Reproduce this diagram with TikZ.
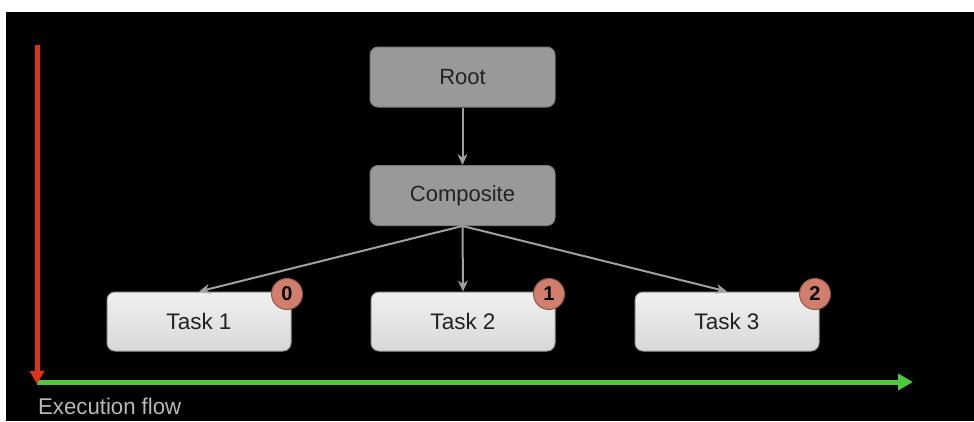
\documentclass[tikz,border=0pt]{standalone}
\usepackage{fontspec}
\setmainfont{Liberation Sans}
\usetikzlibrary{arrows.meta,shadings}
\definecolor{boxgray}{HTML}{999999}
\definecolor{boxedge}{HTML}{7A7A7A}
\definecolor{taskedge}{HTML}{9A9A9A}
\definecolor{badgefill}{HTML}{D27E6C}
\definecolor{badgeedge}{HTML}{8E5A4E}
\definecolor{linkgray}{HTML}{A0A0A0}
\definecolor{flowred}{HTML}{E0321A}
\definecolor{flowgreen}{HTML}{4EC83C}
\definecolor{labelgray}{HTML}{B8B8B8}
\definecolor{inktext}{HTML}{222222}
\begin{document}
\begin{tikzpicture}[x=1pt,y=-1pt,
  darkbox/.style={draw=boxedge,line width=1pt,fill=boxgray,rounded corners=8pt,
    minimum width=185pt,minimum height=60pt,inner sep=0pt,
    font=\fontsize{22}{26}\selectfont,text=inktext},
  taskbox/.style={draw=taskedge,line width=1pt,rounded corners=8pt,
    top color=white!94!black,bottom color=white!85!black,
    minimum width=184pt,minimum height=59pt,inner sep=0pt,
    font=\fontsize{22.5}{26}\selectfont,text=inktext},
  badge/.style={circle,draw=badgeedge,line width=1pt,fill=badgefill,
    minimum size=31pt,inner sep=0pt,font=\fontsize{20}{22}\selectfont\bfseries,text=black},
  link/.style={draw=linkgray,line width=2pt,-{Stealth[length=11pt,width=10pt]}},
  flow/.style={line width=5pt}
]
\useasboundingbox (0,0) rectangle (974,421);
\fill[white] (0,0) rectangle (974,421);
\fill[black] (6,12) rectangle (974,421);

\node[darkbox] (root) at (462.5,77) {Root};
\node[darkbox] (comp) at (462.5,195.5) {Composite};
\node[taskbox] (t1) at (199,321.5) {Task 1};
\node[taskbox] (t2) at (463,321.5) {Task 2};
\node[taskbox] (t3) at (727,321.5) {Task 3};

\draw[link] (root) -- (comp);
\draw[link] (comp.south) -- (t1.north);
\draw[link] (comp.south) -- (t2.north);
\draw[link] (comp.south) -- (t3.north);

\node[badge] (b1) at (287,294) {0};
\node[badge] (b2) at (549,294) {1};
\node[badge] (b3) at (815,294) {2};

\coordinate (ytop) at (37,45);
\coordinate (origin) at (37,384);
\coordinate (xend) at (913,382);
\draw[flow,flowgreen,-{Triangle[length=15pt,width=16pt]}] (37,382) -- (xend);
\draw[flow,flowred,-{Triangle[length=13pt,width=14pt]}] (ytop) -- (origin);

\node[anchor=south west,inner sep=0pt,text=labelgray] (lbl) at (38,415)
  {\resizebox{143pt}{16.5pt}{\fontsize{22}{26}\selectfont Execution flow}};
\end{tikzpicture}
\end{document}
